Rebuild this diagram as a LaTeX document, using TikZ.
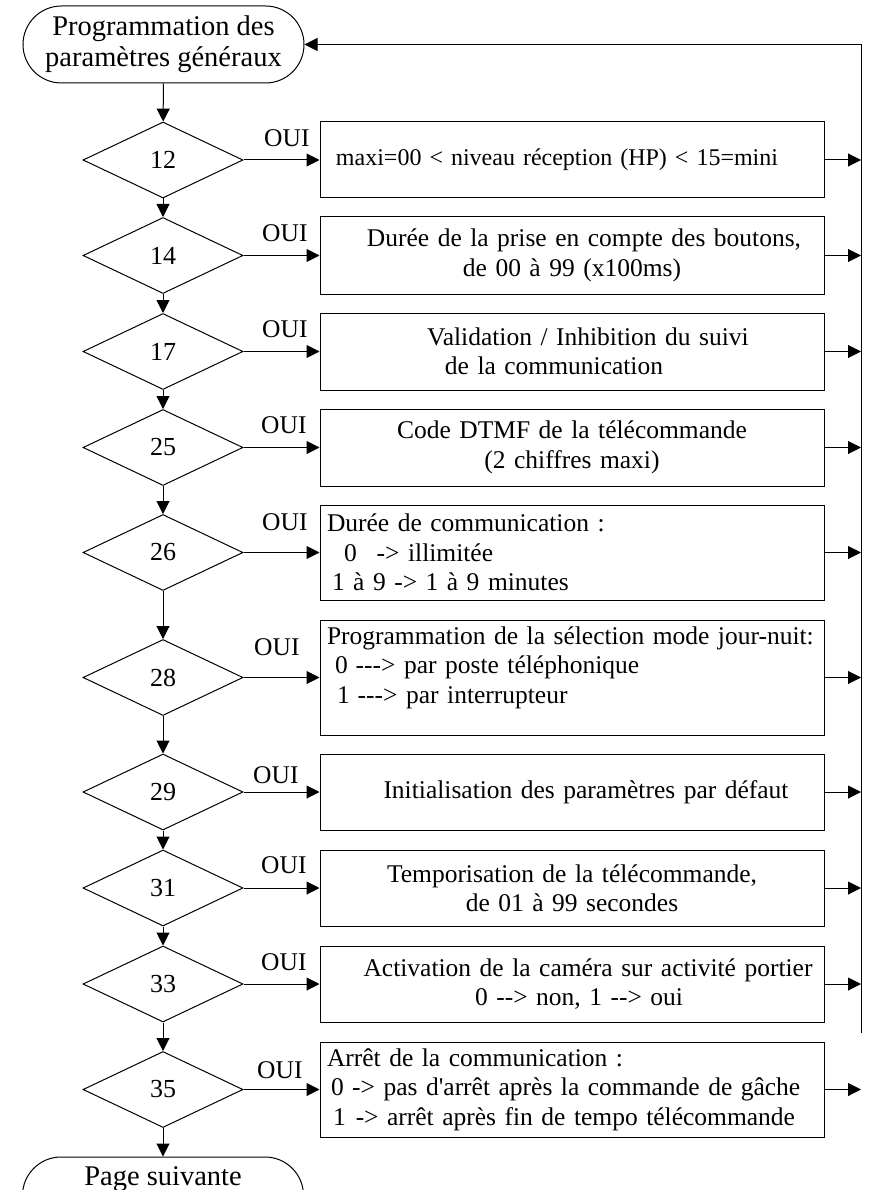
\documentclass[tikz,border=0pt]{standalone}
\usepackage{fontspec}
\setmainfont{Liberation Serif}[Ligatures=TeXOff]
\usetikzlibrary{shapes.geometric,shapes.misc,arrows.meta}
\begin{document}
\begin{tikzpicture}[x=1pt,y=-1pt,
  line width=1pt,
  arr/.style={-{Triangle[length=13pt,width=13pt]}},
  term/.style={draw, rounded rectangle, minimum width=281pt, minimum height=77pt, inner sep=0pt},
  dec/.style={draw, diamond, minimum width=160pt, minimum height=76pt, inner sep=0pt, font=\fontsize{26}{30}\selectfont},
  actc/.style={draw, rectangle, minimum width=504pt, text width=490pt, inner xsep=7pt, inner ysep=0pt, align=center, font=\fontsize{25.5}{29.5}\selectfont},
  actl/.style={actc, align=left},
  oui/.style={anchor=base east, inner sep=0pt, font=\fontsize{25.5}{30}\selectfont}]
\useasboundingbox (0,0) rectangle (870,1190);

% terminals
\node[term, align=center, font=\fontsize{28.5}{31}\selectfont] (start) at (163.5,44.5) {Programmation des\\paramètres généraux};
\node[term, font=\fontsize{28.5}{31}\selectfont, text height=20pt, text depth=41pt] (next) at (163,1195.5) {Page suivante};

% decisions
\node[dec] (d12) at (163,160) {12};
\node[dec] (d14) at (163,255.5) {14};
\node[dec] (d17) at (163,351.5) {17};
\node[dec] (d25) at (163,447.5) {25};
\node[dec] (d26) at (163,552.5) {26};
\node[dec] (d28) at (163,677.5) {28};
\node[dec] (d29) at (163,792) {29};
\node[dec] (d31) at (163,888) {31};
\node[dec] (d33) at (163,984) {33};
\node[dec] (d35) at (163,1089.5) {35};

% actions
\node[actc, minimum height=76pt, font=\fontsize{24}{29.5}\selectfont] (b12) at (572,160) {maxi=00 < niveau réception (HP) < 15=mini\hspace*{30pt}\mbox{}};
\node[actc, minimum height=77pt] (b14) at (572,255.5) {\hspace*{24pt}Durée de la prise en compte des boutons,\\de 00 à 99 (x100ms)};
\node[actc, minimum height=77pt] (b17) at (572,351.5) {\hspace*{32pt}Validation / Inhibition du suivi\\de la communication\hspace*{36pt}\mbox{}};
\node[actc, minimum height=77pt] (b25) at (572,447.5) {Code DTMF de la télécommande\\(2 chiffres maxi)};
\node[actl, minimum height=95pt] (b26) at (572,552.5) {Durée de communication :\\\hspace*{17pt}0\hspace*{20pt}-> illimitée\\\hspace*{5pt}1 à 9 -> 1 à 9 minutes};
\node[actl, minimum height=115pt] (b28) at (572,677.5) {Programmation de la sélection mode jour-nuit:\\\hspace*{8pt}0\hspace*{8pt}---> par poste téléphonique\\\hspace*{10pt}1\hspace*{8pt}---> par interrupteur\rule[-25pt]{0pt}{0pt}};
\node[actc, minimum height=76pt] (b29) at (572,792) {\hspace*{28pt}Initialisation des paramètres par défaut};
\node[actc, minimum height=76pt] (b31) at (572,888) {Temporisation de la télécommande,\\de 01 à 99 secondes};
\node[actc, minimum height=76pt] (b33) at (572,984) {\hspace*{32pt}Activation de la caméra sur activité portier\\\hspace*{14pt}0 --> non, 1 --> oui};
\node[actl, minimum height=95pt] (b35) at (572,1089.5) {Arrêt de la communication :\\\hspace*{4pt}0 -> pas d'arrêt après la commande de gâche\\\hspace*{6pt}1\hspace*{10pt}-> arrêt après fin de tempo télécommande};

% OUI labels
\node[oui] (o12) at (310,147) {OUI};
\node[oui] (o14) at (308,242) {OUI};
\node[oui] (o17) at (308,337) {OUI};
\node[oui] (o25) at (307,433) {OUI};
\node[oui] (o26) at (308,530) {OUI};
\node[oui] (o28) at (300,655) {OUI};
\node[oui] (o29) at (299,783) {OUI};
\node[oui] (o31) at (307,873) {OUI};
\node[oui] (o33) at (307,970) {OUI};
\node[oui] (o35) at (303,1078) {OUI};

% return line
\coordinate (rbot) at (861,1033);
\draw[arr] (rbot) |- (start.east);

% vertical flow
\draw[arr] (start) -- (d12);
\draw[arr] (d12) -- (d14);
\draw[arr] (d14) -- (d17);
\draw[arr] (d17) -- (d25);
\draw[arr] (d25) -- (d26);
\draw[arr] (d26) -- (d28);
\draw[arr] (d28) -- (d29);
\draw[arr] (d29) -- (d31);
\draw[arr] (d31) -- (d33);
\draw[arr] (d33) -- (d35);
\draw[arr] (d35) -- (next);

% decision -> action, action -> return line
\foreach \n in {12,14,17,25,26,28,29,31,33,35}{
  \draw[arr] (d\n.east) -- (b\n.west);
  \draw[arr] (b\n.east) -- (b\n.east -| rbot);
}
\end{tikzpicture}
\end{document}
